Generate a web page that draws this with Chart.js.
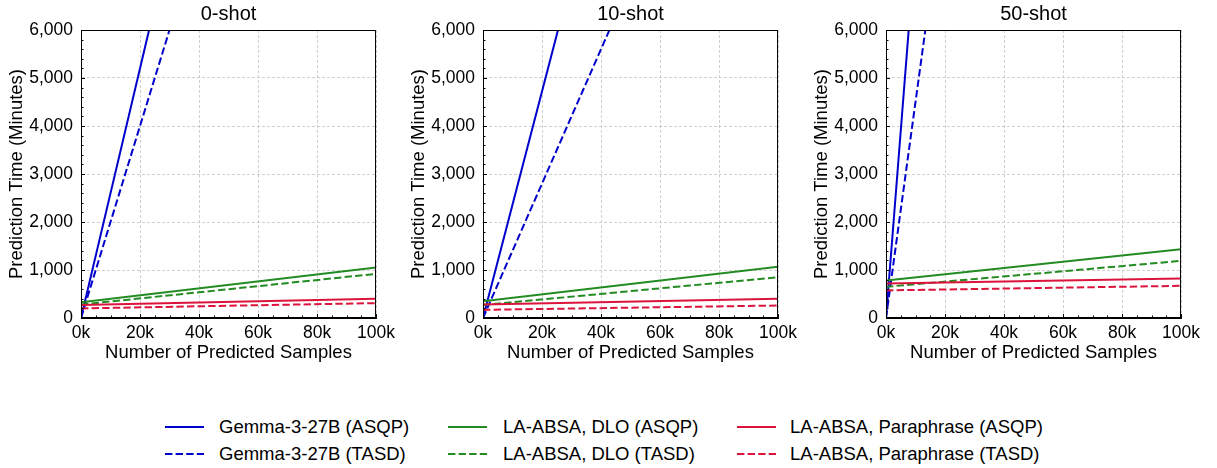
<!DOCTYPE html>
<html>
<head>
<meta charset="utf-8">
<script src="https://cdn.jsdelivr.net/npm/chart.js@4.4.1/dist/chart.umd.min.js"></script>
<style>
  body { margin: 0; width: 1217px; height: 468px; background: #fff; position: relative; overflow: hidden;
         font-family: "Liberation Sans", Arial, sans-serif; }
  canvas.panel { position: absolute; top: 0; }
  .item { position: absolute; height: 24px; display: flex; align-items: center; font-size: 18.5px; color: #000; white-space: nowrap; }
  .item svg { flex: none; }
</style>
</head>
<body>
<canvas class="panel" id="p0" width="400" height="370" style="left:0px"></canvas>
<canvas class="panel" id="p1" width="400" height="370" style="left:402px"></canvas>
<canvas class="panel" id="p2" width="400" height="370" style="left:805px"></canvas>
<div id="legend"></div>
<script>
const FONT = '"Liberation Sans", Arial, sans-serif';

// x positions of the two ends of every fitted line
const xEnds = [0, 100000];
const xTicks = [0, 20000, 40000, 60000, 80000, 100000];
const yTicks = [0, 1000, 2000, 3000, 4000, 5000, 6000];

const panelTitles = ['0-shot', '10-shot', '50-shot'];
const seriesNames = [
  'Gemma-3-27B (ASQP)', 'Gemma-3-27B (TASD)',
  'LA-ABSA, DLO (ASQP)', 'LA-ABSA, DLO (TASD)',
  'LA-ABSA, Paraphrase (ASQP)', 'LA-ABSA, Paraphrase (TASD)'
];
const seriesColors = ['#0000cd', '#0000cd', '#228b22', '#228b22', '#dc143c', '#dc143c'];
const seriesDashed = [false, true, false, true, false, true];

// minutes at 0 samples and at 100k samples, same order as seriesNames
const zeroShotStart = [0, 0, 330, 280, 270, 200];
const zeroShotEnd = [26000, 20000, 1050, 920, 400, 310];
const tenShotStart = [0, 0, 350, 270, 280, 170];
const tenShotEnd = [23600, 14000, 1070, 850, 400, 260];
const fiftyShotStart = [0, 0, 780, 650, 720, 575];
const fiftyShotEnd = [78000, 45000, 1430, 1190, 825, 670];

const minorX = 5000;
const minorY = 200;
const DASH = [7.4, 3.2];

// full box around the plot, small inward ticks, and the panel title
const frameAndTicks = {
  id: 'frameAndTicks',
  afterDraw(chart, args, opts) {
    const { ctx, chartArea: a, scales: { x, y } } = chart;
    ctx.save();
    ctx.strokeStyle = '#000';
    ctx.lineWidth = 1;
    ctx.beginPath();
    for (let v = x.min; v <= x.max; v += minorX) {
      const px = Math.round(x.getPixelForValue(v)) + 0.5;
      const len = v % 20000 === 0 ? 4 : 2.5;
      ctx.moveTo(px, a.bottom);
      ctx.lineTo(px, a.bottom - len);
    }
    for (let v = y.min; v <= y.max; v += minorY) {
      const py = Math.round(y.getPixelForValue(v)) + 0.5;
      const len = v % 1000 === 0 ? 4 : 2.5;
      ctx.moveTo(a.left, py);
      ctx.lineTo(a.left + len, py);
    }
    ctx.stroke();
    ctx.strokeRect(a.left + 0.5, a.top + 0.5, a.right - a.left - 1, a.bottom - a.top - 1);

    ctx.fillStyle = '#000';
    ctx.font = '20px ' + FONT;
    ctx.textAlign = 'center';
    ctx.textBaseline = 'middle';
    ctx.fillText(opts.text, (a.left + a.right) / 2, a.top - 16);
    ctx.restore();
  }
};

function makePanel(id, title, starts, ends) {
  const datasets = seriesNames.map((name, i) => ({
    label: name,
    data: [{ x: xEnds[0], y: starts[i] }, { x: xEnds[1], y: ends[i] }],
    borderColor: seriesColors[i],
    borderDash: seriesDashed[i] ? DASH : [],
    borderWidth: 2,
    pointRadius: 0,
    tension: 0,
    order: 3 - Math.floor(i / 2)
  }));

  new Chart(document.getElementById(id), {
    type: 'line',
    data: { datasets },
    plugins: [frameAndTicks],
    options: {
      responsive: false,
      animation: false,
      layout: { padding: { left: 0, right: 18, top: 30, bottom: 0 } },
      plugins: {
        legend: { display: false },
        tooltip: { enabled: false },
        title: { display: false },
        frameAndTicks: { text: title }
      },
      scales: {
        x: {
          type: 'linear', min: 0, max: 100000,
          afterBuildTicks: s => { s.ticks = xTicks.map(v => ({ value: v })); },
          afterFit: s => { s.height = 52; },
          ticks: {
            callback: v => (v / 1000) + 'k', color: '#000', padding: 5,
            maxRotation: 0, autoSkip: false, font: { size: 17.5, family: FONT }
          },
          grid: { color: '#c4c4c4', lineWidth: 0.8, drawTicks: false },
          border: { display: true, color: '#000', width: 1, dash: [3, 2] },
          title: {
            display: true, text: 'Number of Predicted Samples', color: '#000',
            font: { size: 18.5, family: FONT }, padding: { top: 0, bottom: 6 }
          }
        },
        y: {
          type: 'linear', min: 0, max: 6000,
          afterBuildTicks: s => { s.ticks = yTicks.map(v => ({ value: v })); },
          afterFit: s => { s.width = 81; },
          ticks: {
            callback: v => v.toLocaleString('en-US'), color: '#000', padding: 8,
            font: { size: 17.5, family: FONT }
          },
          grid: { color: '#c4c4c4', lineWidth: 0.8, drawTicks: false },
          border: { display: true, color: '#000', width: 1, dash: [3, 2] },
          title: {
            display: true, text: 'Prediction Time (Minutes)', color: '#000',
            font: { size: 18.5, family: FONT }, padding: { top: 6, bottom: 0 }
          }
        }
      }
    }
  });
}

makePanel('p0', panelTitles[0], zeroShotStart, zeroShotEnd);
makePanel('p1', panelTitles[1], tenShotStart, tenShotEnd);
makePanel('p2', panelTitles[2], fiftyShotStart, fiftyShotEnd);

// shared legend: three columns (model), two rows (ASQP / TASD)
const legendLineX = [165, 448, 737];
const legendTextX = [219, 503, 790];
const legendRowY = [427, 454];
const legend = document.getElementById('legend');
seriesNames.forEach((name, i) => {
  const col = Math.floor(i / 2);
  const row = i % 2;
  const div = document.createElement('div');
  div.className = 'item';
  div.style.left = legendLineX[col] + 'px';
  div.style.top = (legendRowY[row] - 12) + 'px';
  const w = legendTextX[col] - legendLineX[col];
  const dash = seriesDashed[i] ? ` stroke-dasharray="${DASH.join(' ')}"` : '';
  div.innerHTML = `<svg width="${w}" height="24"><line x1="0" y1="12" x2="39" y2="12" stroke="${seriesColors[i]}" stroke-width="2"${dash}/></svg><span>${name}</span>`;
  legend.appendChild(div);
});
</script>
</body>
</html>
